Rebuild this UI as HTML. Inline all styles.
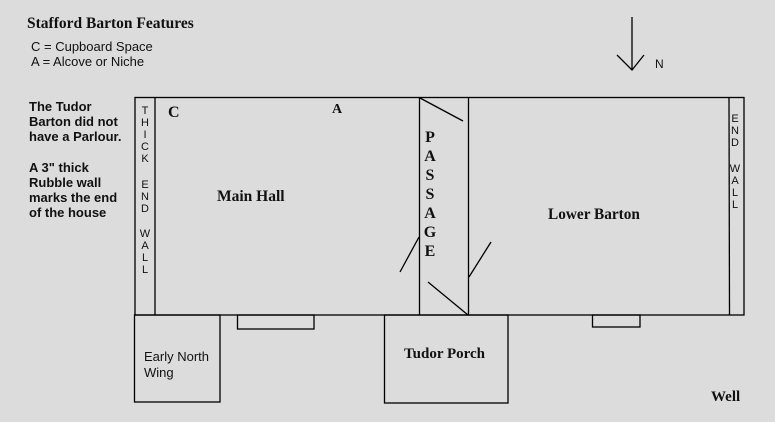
<!DOCTYPE html>
<html><head><meta charset="utf-8"><style>
html,body{margin:0;padding:0;background:#dcdcdc;}
svg{display:block}
.s{font-family:"Liberation Serif",serif;font-weight:bold;fill:#111}
.a{font-family:"Liberation Sans",sans-serif;fill:#111}
</style></head><body>
<svg width="775" height="422" viewBox="0 0 775 422" xmlns="http://www.w3.org/2000/svg">
<rect width="775" height="422" fill="#dcdcdc"/>
<g stroke="#000" stroke-width="1.3" fill="none">
<rect x="135" y="97.5" width="609" height="217.5"/>
<line x1="155" y1="97.5" x2="155" y2="315"/>
<line x1="419.5" y1="97.5" x2="419.5" y2="315"/>
<line x1="468.5" y1="97.5" x2="468.5" y2="315"/>
<line x1="729" y1="97.5" x2="729.5" y2="315"/>
<rect x="134.5" y="315" width="85.5" height="87"/>
<rect x="237.5" y="315" width="76.5" height="14"/>
<rect x="384.5" y="315" width="123.5" height="88"/>
<rect x="592.5" y="315" width="47.5" height="12"/>
<line x1="420" y1="98" x2="463" y2="121"/>
<line x1="400" y1="272" x2="419" y2="237"/>
<line x1="428" y1="282" x2="468" y2="315"/>
<line x1="469" y1="277" x2="491" y2="242"/>
<line x1="632" y1="17" x2="632" y2="70"/>
<polyline points="617,55 632,70 644,55"/>
</g>
<text x="655" y="68" class="a" font-size="12">N</text>
<text x="27" y="28" class="s" font-size="15.5">Stafford Barton Features</text>
<text x="31" y="51" class="a" font-size="13">C = Cupboard Space</text>
<text x="31" y="66" class="a" font-size="13">A = Alcove or Niche</text>
<g class="a" font-size="13" font-weight="bold">
<text x="29" y="111">The Tudor</text>
<text x="29" y="126">Barton did not</text>
<text x="29" y="141">have a Parlour.</text>
<text x="29" y="172">A 3" thick</text>
<text x="29" y="187">Rubble wall</text>
<text x="29" y="202">marks the end</text>
<text x="29" y="217">of the house</text>
</g>
<g class="a" font-size="11" text-anchor="middle">
<text x="145" y="114">T</text><text x="145" y="126">H</text><text x="145" y="138">I</text><text x="145" y="150">C</text><text x="145" y="162">K</text>
<text x="145" y="188">E</text><text x="145" y="200">N</text><text x="145" y="212">D</text>
<text x="145" y="237">W</text><text x="145" y="249">A</text><text x="145" y="261">L</text><text x="145" y="273">L</text>
<text x="735" y="122">E</text><text x="735" y="134">N</text><text x="735" y="146">D</text>
<text x="735" y="172">W</text><text x="735" y="184">A</text><text x="735" y="196">L</text><text x="735" y="208">L</text>
</g>
<g class="s" font-size="16" text-anchor="middle">
<text x="430" y="142">P</text><text x="430" y="161">A</text><text x="430" y="180">S</text><text x="430" y="199">S</text><text x="430" y="218">A</text><text x="430" y="237">G</text><text x="430" y="256">E</text>
</g>
<text x="168" y="117" class="s" font-size="16">C</text>
<text x="332" y="113" class="s" font-size="14">A</text>
<text x="217" y="201" class="s" font-size="15.5">Main Hall</text>
<text x="548" y="219" class="s" font-size="15.3">Lower Barton</text>
<text x="404" y="358" class="s" font-size="15">Tudor Porch</text>
<text x="711" y="401" class="s" font-size="15">Well</text>
<text x="144" y="361" class="a" font-size="13">Early North</text>
<text x="144" y="377" class="a" font-size="13">Wing</text>
</svg>
</body></html>
